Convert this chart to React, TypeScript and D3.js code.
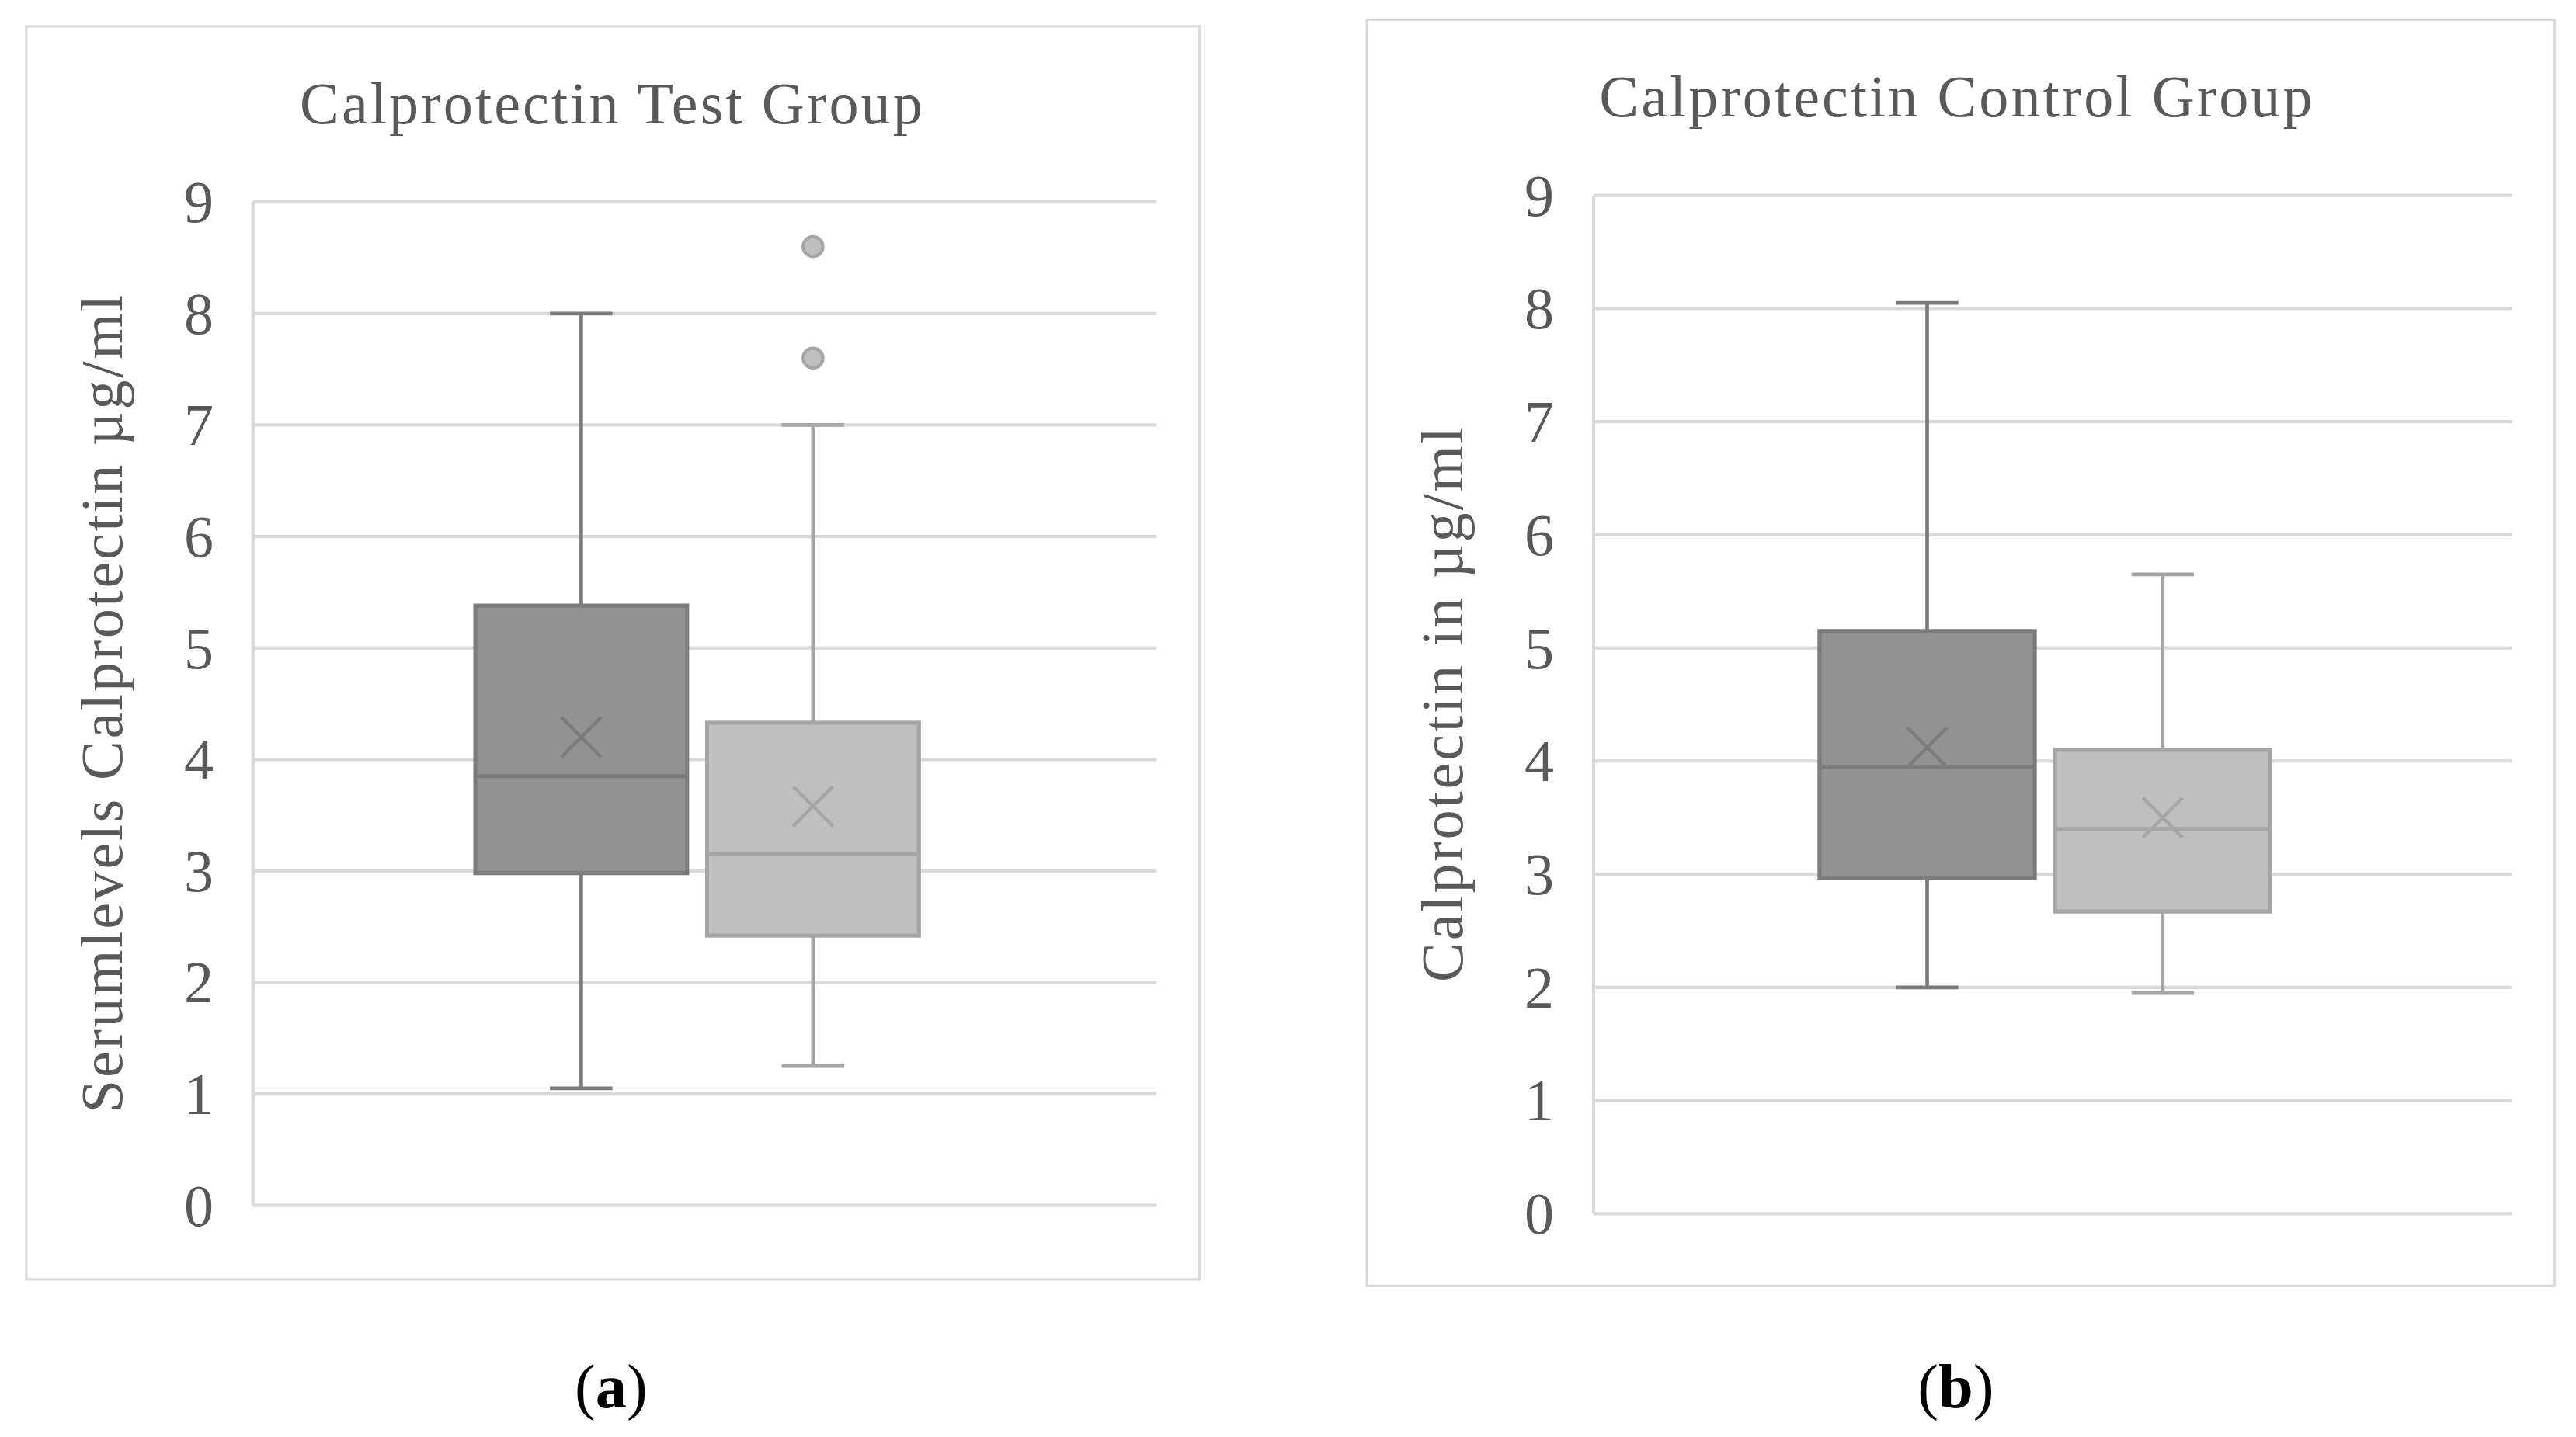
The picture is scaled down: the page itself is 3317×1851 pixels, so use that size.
import * as d3 from 'd3';

// box statistics, one entry per series
const seriesNames = ['group 1', 'group 2'];

const testMin = [1.05, 1.25];
const testQ1 = [2.98, 2.42];
const testMedian = [3.85, 3.15];
const testQ3 = [5.38, 4.33];
const testMax = [8.0, 7.0];
const testMean = [4.2, 3.58];
const testOutliers = [[], [7.6, 8.6]];

const ctrlMin = [2.0, 1.95];
const ctrlQ1 = [2.97, 2.67];
const ctrlMedian = [3.95, 3.4];
const ctrlQ3 = [5.15, 4.1];
const ctrlMax = [8.05, 5.65];
const ctrlMean = [4.12, 3.5];
const ctrlOutliers = [[], []];

const yTicks = [0, 1, 2, 3, 4, 5, 6, 7, 8, 9];

const W = 1568;
const H = 875;
const FONT = '"Liberation Serif", "DejaVu Serif", serif';
const TEXT = '#595959';
const GRID = '#d9d9d9';
const fills = ['#929292', '#bfbfbf'];
const strokes = ['#7b7b7b', '#a5a5a5'];

interface BoxStats {
  min: number;
  q1: number;
  median: number;
  q3: number;
  max: number;
  mean: number;
  outliers: number[];
}

interface PanelProps {
  title: string;
  titleLen: number;
  yLabel: string;
  yLabelLen: number;
  yLabelX: number;
  frame: [number, number, number, number];
  plot: { x0: number; x1: number; y0: number; y1: number };
  titleY: number;
  tag: string;
  stats: BoxStats[];
}

function build(
  mins: number[], q1: number[], med: number[], q3: number[],
  maxs: number[], means: number[], outs: number[][]
): BoxStats[] {
  return seriesNames.map((_, i) => ({
    min: mins[i], q1: q1[i], median: med[i], q3: q3[i],
    max: maxs[i], mean: means[i], outliers: outs[i],
  }));
}

function Panel({ title, titleLen, yLabel, yLabelLen, yLabelX, frame, plot, titleY, tag, stats }: PanelProps) {
  const y = d3.scaleLinear().domain([0, 9]).range([plot.y0, plot.y1]);
  const w = plot.x1 - plot.x0;
  const x = d3
    .scaleBand<string>()
    .domain(seriesNames)
    .range([plot.x0 + 0.246 * w, plot.x0 + 0.737 * w])
    .paddingInner(0.086);
  const bw = x.bandwidth();
  const cx = (plot.x0 + plot.x1) / 2;
  const [fx0, fy0, fx1, fy1] = frame;

  return (
    <g>
      <rect x={fx0} y={fy0} width={fx1 - fx0} height={fy1 - fy0} fill="#fff" stroke={GRID} strokeWidth={1.5} />
      <text x={cx - 57 + (tag === '(b)' ? -2 : 0)} y={titleY} textAnchor="middle" fontFamily={FONT} fontSize={36}
        fill={TEXT} textLength={titleLen} lengthAdjust="spacing">
        {title}
      </text>

      {yTicks.map((t) => (
        <g key={t}>
          <line x1={plot.x0} x2={plot.x1} y1={y(t)} y2={y(t)} stroke={GRID} strokeWidth={2} />
          <text x={plot.x0 - 24} y={y(t)} dy="0.34em" textAnchor="end" fontFamily={FONT} fontSize={36} fill={TEXT}>
            {t}
          </text>
        </g>
      ))}
      <line x1={plot.x0} x2={plot.x0} y1={y(9)} y2={y(0)} stroke={GRID} strokeWidth={2} />

      <text transform={`translate(${yLabelX},${(y(0) + y(9)) / 2}) rotate(-90)`} textAnchor="middle"
        dominantBaseline="central" fontFamily={FONT} fontSize={36} fill={TEXT}
        textLength={yLabelLen} lengthAdjust="spacing">
        {yLabel}
      </text>

      {stats.map((s, i) => {
        const bx = x(seriesNames[i]) ?? 0;
        const mx = bx + bw / 2;
        const capHalf = 19;
        const m = 12;
        return (
          <g key={i}>
            <line x1={mx} x2={mx} y1={y(s.max)} y2={y(s.q3)} stroke={strokes[i]} strokeWidth={2.2} />
            <line x1={mx} x2={mx} y1={y(s.q1)} y2={y(s.min)} stroke={strokes[i]} strokeWidth={2.2} />
            <line x1={mx - capHalf} x2={mx + capHalf} y1={y(s.max)} y2={y(s.max)} stroke={strokes[i]} strokeWidth={2.2} />
            <line x1={mx - capHalf} x2={mx + capHalf} y1={y(s.min)} y2={y(s.min)} stroke={strokes[i]} strokeWidth={2.2} />
            <rect x={bx} y={y(s.q3)} width={bw} height={y(s.q1) - y(s.q3)} fill={fills[i]} stroke={strokes[i]} strokeWidth={2.4} />
            <line x1={bx} x2={bx + bw} y1={y(s.median)} y2={y(s.median)} stroke={strokes[i]} strokeWidth={2.4} />
            <path
              d={`M${mx - m},${y(s.mean) - m}L${mx + m},${y(s.mean) + m}M${mx - m},${y(s.mean) + m}L${mx + m},${y(s.mean) - m}`}
              stroke={strokes[i]} strokeWidth={2} fill="none"
            />
            {s.outliers.map((o, k) => (
              <circle key={k} cx={mx} cy={y(o)} r={6} fill={fills[i]} stroke={strokes[i]} strokeWidth={2} />
            ))}
          </g>
        );
      })}

      <text x={cx - 57 + (tag === '(b)' ? -2 : 0)} y={857} textAnchor="middle" fontFamily={FONT} fontSize={38} fill="#000">
        (<tspan fontWeight="bold">{tag.slice(1, 2)}</tspan>)
      </text>
    </g>
  );
}

export default function App() {
  const testStats = build(testMin, testQ1, testMedian, testQ3, testMax, testMean, testOutliers);
  const ctrlStats = build(ctrlMin, ctrlQ1, ctrlMedian, ctrlQ3, ctrlMax, ctrlMean, ctrlOutliers);

  return (
    <svg
      width={3317}
      height={1851}
      viewBox={`0 0 ${W} ${H}`}
      style={{ position: 'absolute', left: 0, top: 0, background: '#fff' }}
    >
      <rect x={0} y={0} width={W} height={H} fill="#fff" />
      <Panel
        title="Calprotectin Test Group"
        titleLen={379}
        yLabel="Serumlevels Calprotectin µg/ml"
        yLabelLen={498}
        yLabelX={62}
        frame={[16, 16, 730, 779]}
        plot={{ x0: 154, x1: 704, y0: 734, y1: 123 }}
        titleY={75}
        tag="(a)"
        stats={testStats}
      />
      <Panel
        title="Calprotectin Control Group"
        titleLen={434}
        yLabel="Calprotectin in µg/ml"
        yLabelLen={338}
        yLabelX={878}
        frame={[832, 12, 1555, 783]}
        plot={{ x0: 970, x1: 1529, y0: 739, y1: 119 }}
        titleY={71}
        tag="(b)"
        stats={ctrlStats}
      />
    </svg>
  );
}
